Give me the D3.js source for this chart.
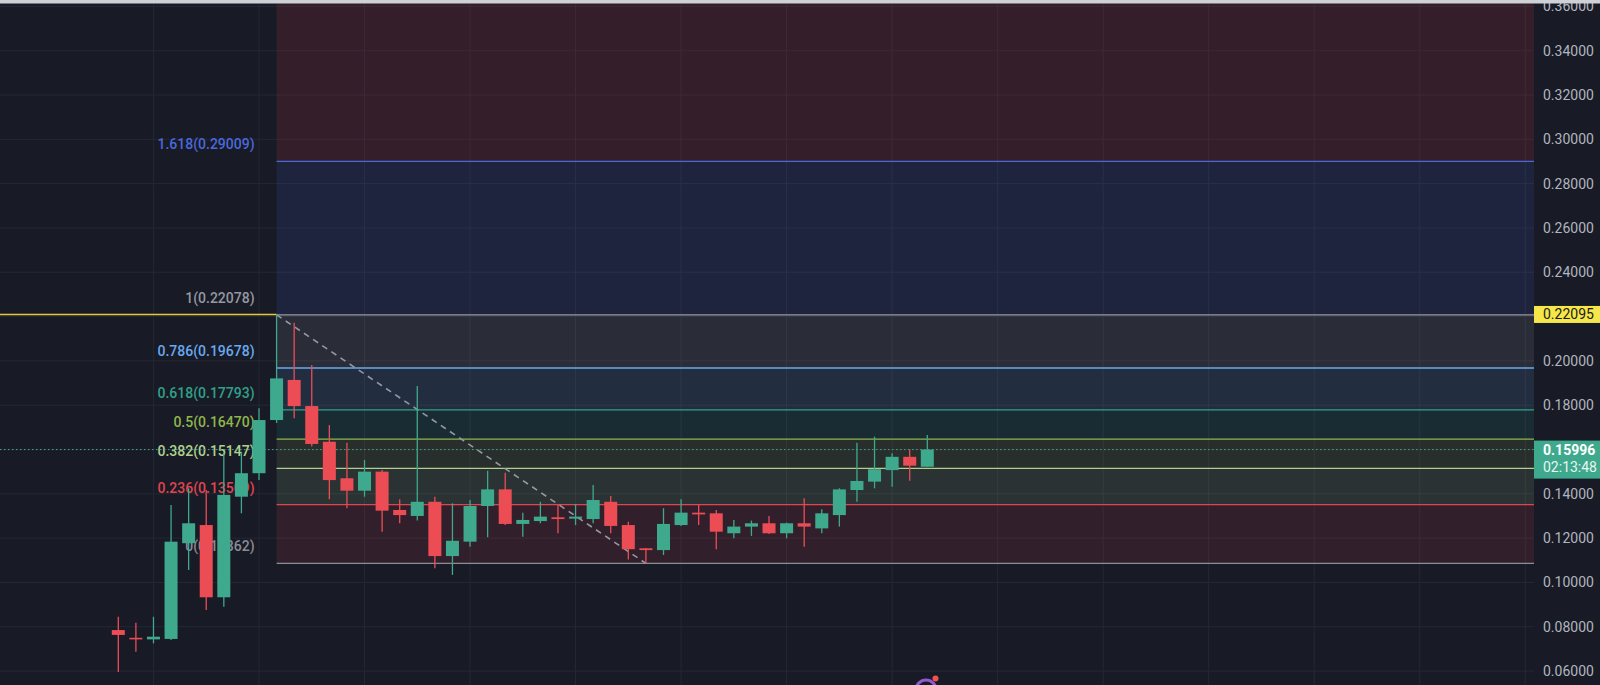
<!DOCTYPE html>
<html><head><meta charset="utf-8">
<script src="https://cdn.jsdelivr.net/npm/d3@7"></script>
<style>
html,body{margin:0;padding:0;background:#181b26;overflow:hidden}
svg{display:block}
</style></head><body>
<svg id="chart" width="1600" height="685"></svg>
<script>
// ---------- data ----------
const candleIndex = d3.range(47);
const openP  = [0.0785,0.0750,0.0743,0.0745,0.1177,0.1259,0.0933,0.1387,0.1493,0.1733,
                0.1914,0.1796,0.1635,0.1470,0.1414,0.1500,0.1327,0.1300,0.1364,0.1119,
                0.1184,0.1345,0.1420,0.1264,0.1277,0.1294,0.1288,0.1286,0.1364,0.1259,
                0.1154,0.1146,0.1259,0.1315,0.1312,0.1222,0.1252,0.1267,0.1222,0.1267,
                0.1244,0.1304,0.1417,0.1455,0.1507,0.1567,0.1522];
const highP  = [0.0845,0.0818,0.0845,0.1350,0.1425,0.1417,0.1583,0.1590,0.1786,0.22078,
                0.2172,0.1981,0.1711,0.1631,0.1553,0.1507,0.1375,0.1887,0.1387,0.1357,
                0.1372,0.1504,0.1495,0.1315,0.1364,0.1350,0.1354,0.1440,0.1390,0.1274,
                0.1155,0.1335,0.1375,0.1350,0.1327,0.1282,0.1279,0.1300,0.1270,0.1380,
                0.1330,0.1425,0.1631,0.1658,0.1583,0.1601,0.1665];
const lowP   = [0.0596,0.0687,0.0725,0.0740,0.1056,0.0876,0.0890,0.1312,0.1462,0.1720,
                0.1741,0.1613,0.1375,0.1335,0.1387,0.1229,0.1267,0.1279,0.1064,0.1034,
                0.1161,0.1204,0.1259,0.1206,0.1267,0.1222,0.1259,0.1267,0.1222,0.1104,
                0.10862,0.1124,0.1255,0.1259,0.1150,0.1199,0.1210,0.1219,0.1199,0.1161,
                0.1222,0.1252,0.1364,0.1425,0.1432,0.1459,0.1522];
const closeP = [0.0763,0.0743,0.0755,0.1184,0.1267,0.0933,0.1395,0.1493,0.1733,0.1921,
                0.1796,0.1625,0.1462,0.1414,0.1500,0.1324,0.1304,0.1364,0.1119,0.1188,
                0.1345,0.1420,0.1264,0.1282,0.1297,0.1286,0.1297,0.1372,0.1255,0.1150,
                0.1146,0.1264,0.1315,0.1307,0.1229,0.1252,0.1267,0.1222,0.1267,0.1252,
                0.1312,0.1420,0.1458,0.1511,0.1567,0.1527,0.15996];

const priceTicks = [0.06,0.08,0.10,0.12,0.14,0.16,0.18,0.20,0.22,0.24,0.26,0.28,0.30,0.32,0.34,0.36];
const fibLevels = ["0","0.236","0.382","0.5","0.618","0.786","1","1.618","2.618"];
const fibValues = [0.10862,0.13509,0.15147,0.16470,0.17793,0.19678,0.22078,0.29009,0.40225];
const fibColors = ["#8a8d96","#e0454f","#b0d08e","#90b54a","#31a08a","#6aa8ef","#9598a1","#4a68dc","#f23645"];
const fibStartIndex = 9;   // swing high candle
const fibEndIndex = 30;    // swing low candle
const gridIndex = d3.range(2, 86, 6);
const lastPrice = 0.15996;
const countdown = "02:13:48";
const alertPrice = 0.22095;

// ---------- layout ----------
const W = 1600, H = 685, plotRight = 1534, plotTop = 3.5;
const upColor = "#3ea98d", downColor = "#ec4d55";
const svg = d3.select("#chart");

const x = d3.scaleLinear().domain([0, 46]).range([118.3, 927.3]);
const y = d3.scaleLinear().domain([0.06, 0.36]).range([671.05, 6.4]);
const bodyW = 13;

svg.append("rect").attr("width", W).attr("height", H).attr("fill", "#181b26");
svg.append("defs").append("clipPath").attr("id", "plot")
  .append("rect").attr("x", 0).attr("y", plotTop).attr("width", plotRight).attr("height", H - plotTop);

const plot = svg.append("g").attr("clip-path", "url(#plot)");

// grid
plot.append("g").selectAll("line").data(priceTicks).join("line")
  .attr("x1", 0).attr("x2", plotRight)
  .attr("y1", d => y(d)).attr("y2", d => y(d))
  .attr("stroke", "#242834").attr("stroke-width", 1);
plot.append("g").selectAll("line").data(gridIndex).join("line")
  .attr("x1", d => x(d)).attr("x2", d => x(d))
  .attr("y1", 0).attr("y2", H)
  .attr("stroke", "#242834").attr("stroke-width", 1);

// fib zones
const fx0 = x(fibStartIndex);
const zones = d3.range(1, fibValues.length).map(i => ({lo: fibValues[i-1], hi: fibValues[i], c: fibColors[i]}));
plot.append("g").selectAll("rect").data(zones).join("rect")
  .attr("x", fx0).attr("width", plotRight - fx0)
  .attr("y", d => y(d.hi)).attr("height", d => y(d.lo) - y(d.hi))
  .attr("fill", d => d.c).attr("fill-opacity", d => d.c === "#9598a1" ? 0.15 : 0.13);

// horizontal (alert) line
plot.append("line")
  .attr("x1", 0).attr("x2", fx0)
  .attr("y1", y(alertPrice)).attr("y2", y(alertPrice))
  .attr("stroke", "#e3cc3c").attr("stroke-width", 1.5);

// fib level lines
plot.append("g").selectAll("line").data(fibValues).join("line")
  .attr("x1", fx0).attr("x2", plotRight)
  .attr("y1", d => y(d)).attr("y2", d => y(d))
  .attr("stroke", (d, i) => fibColors[i]).attr("stroke-width", 1.3);

// fib labels (only levels inside the visible price range)
const [yMin, yMax] = y.domain();
const visibleFib = fibValues.map((v, i) => ({v, i})).filter(d => d.v >= yMin && d.v <= yMax);
plot.append("g").selectAll("text").data(visibleFib).join("text")
  .attr("x", fx0 - 22).attr("y", d => y(d.v) - 12)
  .attr("text-anchor", "end")
  .attr("font-family", "Roboto, 'Liberation Sans', sans-serif").attr("font-size", 14)
  .attr("font-weight", 500)
  .attr("fill", d => fibColors[d.i])
  .text(d => `${fibLevels[d.i]}(${d3.format(".5f")(d.v)})`);

// trend (dashed)
plot.append("line")
  .attr("x1", fx0).attr("y1", y(fibValues[6]))
  .attr("x2", x(fibEndIndex)).attr("y2", y(fibValues[0]))
  .attr("stroke", "#9598a1").attr("stroke-width", 1.6).attr("stroke-dasharray", "6,5");

// last price dotted line
plot.append("line")
  .attr("x1", 0).attr("x2", plotRight)
  .attr("y1", y(lastPrice)).attr("y2", y(lastPrice))
  .attr("stroke", upColor).attr("stroke-width", 1).attr("stroke-dasharray", "1.5,2.5");

// candles
const candles = plot.append("g").selectAll("g").data(candleIndex).join("g");
candles.append("line")
  .attr("x1", i => x(i)).attr("x2", i => x(i))
  .attr("y1", i => y(highP[i])).attr("y2", i => y(lowP[i]))
  .attr("stroke", i => closeP[i] >= openP[i] ? upColor : downColor).attr("stroke-width", 1.3);
candles.append("rect")
  .attr("x", i => x(i) - bodyW / 2).attr("width", bodyW)
  .attr("y", i => y(Math.max(openP[i], closeP[i])))
  .attr("height", i => Math.max(1.5, Math.abs(y(openP[i]) - y(closeP[i]))))
  .attr("fill", i => closeP[i] >= openP[i] ? upColor : downColor);

// right price axis
const axis = d3.axisRight(y).tickValues(priceTicks).tickSize(0).tickPadding(9)
  .tickFormat(d3.format(".5f"));
const ag = svg.append("g").attr("transform", `translate(${plotRight},0)`).call(axis);
ag.select(".domain").remove();
ag.selectAll("text").attr("fill", "#b2b5be").attr("font-size", 14)
  .attr("font-family", "Roboto, 'Liberation Sans', sans-serif");

// alert price label
const ay = y(alertPrice);
svg.append("rect").attr("x", plotRight).attr("y", ay - 8.5).attr("width", W - plotRight).attr("height", 17)
  .attr("fill", "#f5e64a");
svg.append("text").attr("x", plotRight + 9).attr("y", ay + 5)
  .attr("font-family", "Roboto, 'Liberation Sans', sans-serif").attr("font-size", 14)
  .attr("fill", "#1b1b1b").text(d3.format(".5f")(alertPrice));

// last price label
const ly = y(lastPrice);
svg.append("rect").attr("x", plotRight).attr("y", ly - 9).attr("width", W - plotRight).attr("height", 38)
  .attr("fill", upColor);
svg.append("text").attr("x", plotRight + 9).attr("y", ly + 5)
  .attr("font-family", "Roboto, 'Liberation Sans', sans-serif").attr("font-size", 14).attr("font-weight", "bold")
  .attr("fill", "#ffffff").text(d3.format(".5f")(lastPrice));
svg.append("text").attr("x", plotRight + 9).attr("y", ly + 22)
  .attr("font-family", "Roboto, 'Liberation Sans', sans-serif").attr("font-size", 14)
  .attr("fill", "#e8f5f1").text(countdown);

// top strip
svg.append("rect").attr("x", 0).attr("y", 0).attr("width", W).attr("height", 3.5).attr("fill", "#cfd1d6");

// small bottom icon
svg.append("circle").attr("cx", 926).attr("cy", 690).attr("r", 10)
  .attr("fill", "none").attr("stroke", "#8e5bd0").attr("stroke-width", 3);
svg.append("circle").attr("cx", 935.5).attr("cy", 678.5).attr("r", 3).attr("fill", "#ef5350");
</script>
</body></html>
